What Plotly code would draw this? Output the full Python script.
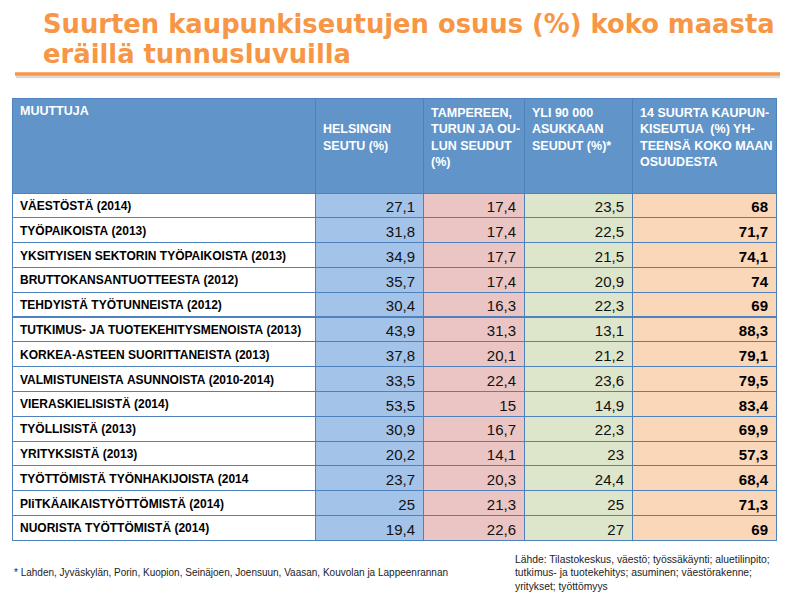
import plotly.graph_objects as go

# ---- data ----
row_labels = [
    "VÄESTÖSTÄ (2014)",
    "TYÖPAIKOISTA (2013)",
    "YKSITYISEN SEKTORIN TYÖPAIKOISTA (2013)",
    "BRUTTOKANSANTUOTTEESTA (2012)",
    "TEHDYISTÄ TYÖTUNNEISTA (2012)",
    "TUTKIMUS- JA TUOTEKEHITYSMENOISTA (2013)",
    "KORKEA-ASTEEN SUORITTANEISTA (2013)",
    "VALMISTUNEISTA ASUNNOISTA (2010-2014)",
    "VIERASKIELISISTÄ (2014)",
    "TYÖLLISISTÄ (2013)",
    "YRITYKSISTÄ (2013)",
    "TYÖTTÖMISTÄ TYÖNHAKIJOISTA (2014",
    "PIiTKÄAIKAISTYÖTTÖMISTÄ (2014)",
    "NUORISTA TYÖTTÖMISTÄ (2014)",
]
helsinki = [27.1, 31.8, 34.9, 35.7, 30.4, 43.9, 37.8, 33.5, 53.5, 30.9, 20.2, 23.7, 25, 19.4]
tre_tku_oulu = [17.4, 17.4, 17.7, 17.4, 16.3, 31.3, 20.1, 22.4, 15, 16.7, 14.1, 20.3, 21.3, 22.6]
over_90000 = [23.5, 22.5, 21.5, 20.9, 22.3, 13.1, 21.2, 23.6, 14.9, 22.3, 23, 24.4, 25, 27]
total_14 = [68, 71.7, 74.1, 74, 69, 88.3, 79.1, 79.5, 83.4, 69.9, 57.3, 68.4, 71.3, 69]

headers = [
    "MUUTTUJA",
    "\u00a0<br>HELSINGIN<br>SEUTU (%)",
    "TAMPEREEN,<br>TURUN JA OU-<br>LUN SEUDUT<br>(%)",
    "YLI 90 000<br>ASUKKAAN<br>SEUDUT (%)*",
    "14 SUURTA KAUPUN-<br>KISEUTUA  (%) YH-<br>TEENSÄ KOKO MAAN<br>OSUUDESTA",
]

title_lines = ["Suurten kaupunkiseutujen osuus (%) koko maasta", "eräillä tunnusluvuilla"]
footnote = "* Lahden, Jyväskylän, Porin, Kuopion, Seinäjoen, Joensuun, Vaasan, Kouvolan ja Lappeenrannan"
source_lines = [
    "Lähde: Tilastokeskus, väestö; työssäkäynti; aluetilinpito;",
    "tutkimus- ja tuotekehitys; asuminen; väestörakenne;",
    "yritykset; työttömyys",
]


def fmt(v):
    return f"{v:g}".replace(".", ",")


def nowrap(s):
    # non-breaking spaces keep each label on one line at the set row height
    return s.replace(" ", "\u00a0")


W, H = 788, 602
ORANGE = "#F79646"
LINE_BLUE = "#4F81BD"
FONT = "Liberation Sans, Arial, sans-serif"

cells = [
    [nowrap(s) for s in row_labels],
    [fmt(v) for v in helsinki],
    [fmt(v) for v in tre_tku_oulu],
    [fmt(v) for v in over_90000],
    [fmt(v) for v in total_14],
]

table = go.Table(
    domain=dict(x=[4 / W, 768 / W], y=[0.0, 1 - 90 / H]),
    columnwidth=[303, 108, 101, 108, 144],
    header=dict(
        values=headers,
        fill_color="#6194C9",
        line=dict(color=LINE_BLUE, width=1),
        align="left",
        height=95,
        font=dict(family=FONT, size=12.5, color="white", weight="bold"),
    ),
    cells=dict(
        values=cells,
        fill_color=["white", "#A3C3E9", "#EAC5C4", "#DDE6CA", "#FBD7B9"],
        line=dict(color=LINE_BLUE, width=1),
        align=["left", "right", "right", "right", "right"],
        height=24.8,
        font=dict(
            family=[FONT] * 5,
            size=[12, 15, 15, 15, 15],
            color=["black", "#111111", "#111111", "#111111", "black"],
            weight=["bold", "normal", "normal", "normal", "bold"],
        ),
    ),
)

fig = go.Figure(table)

fig.update_layout(
    width=W,
    height=H,
    margin=dict(l=0, r=0, t=0, b=0),
    paper_bgcolor="white",
    plot_bgcolor="white",
    showlegend=False,
)

# title
for i, line in enumerate(title_lines):
    fig.add_annotation(
        text="<b>" + line + "</b>",
        xref="paper", yref="paper",
        x=33 / W, y=1 - (16 + 30 * i) / H,
        xanchor="left", yanchor="middle",
        showarrow=False,
        font=dict(family="DejaVu Sans, sans-serif", size=25.8, color=ORANGE),
    )

# underline with soft shadow
fig.add_shape(type="line", xref="paper", yref="paper",
              x0=8 / W, x1=775 / W, y0=1 - 69 / H, y1=1 - 69 / H,
              line=dict(color="rgba(0,0,0,0.15)", width=2.5))
fig.add_shape(type="line", xref="paper", yref="paper",
              x0=7 / W, x1=774 / W, y0=1 - 66 / H, y1=1 - 66 / H,
              line=dict(color=ORANGE, width=3.5))

# footnote
fig.add_annotation(
    text=footnote,
    xref="paper", yref="paper",
    x=4 / W, y=1 - 564 / H,
    xanchor="left", yanchor="middle",
    showarrow=False,
    font=dict(family=FONT, size=10, color="#222222"),
)

# source
fig.add_annotation(
    text="<br>".join(source_lines),
    xref="paper", yref="paper",
    x=505 / W, y=1 - 544 / H,
    xanchor="left", yanchor="top",
    align="left",
    showarrow=False,
    font=dict(family=FONT, size=10.3, color="#222222"),
)

fig.write_html("out.html")
